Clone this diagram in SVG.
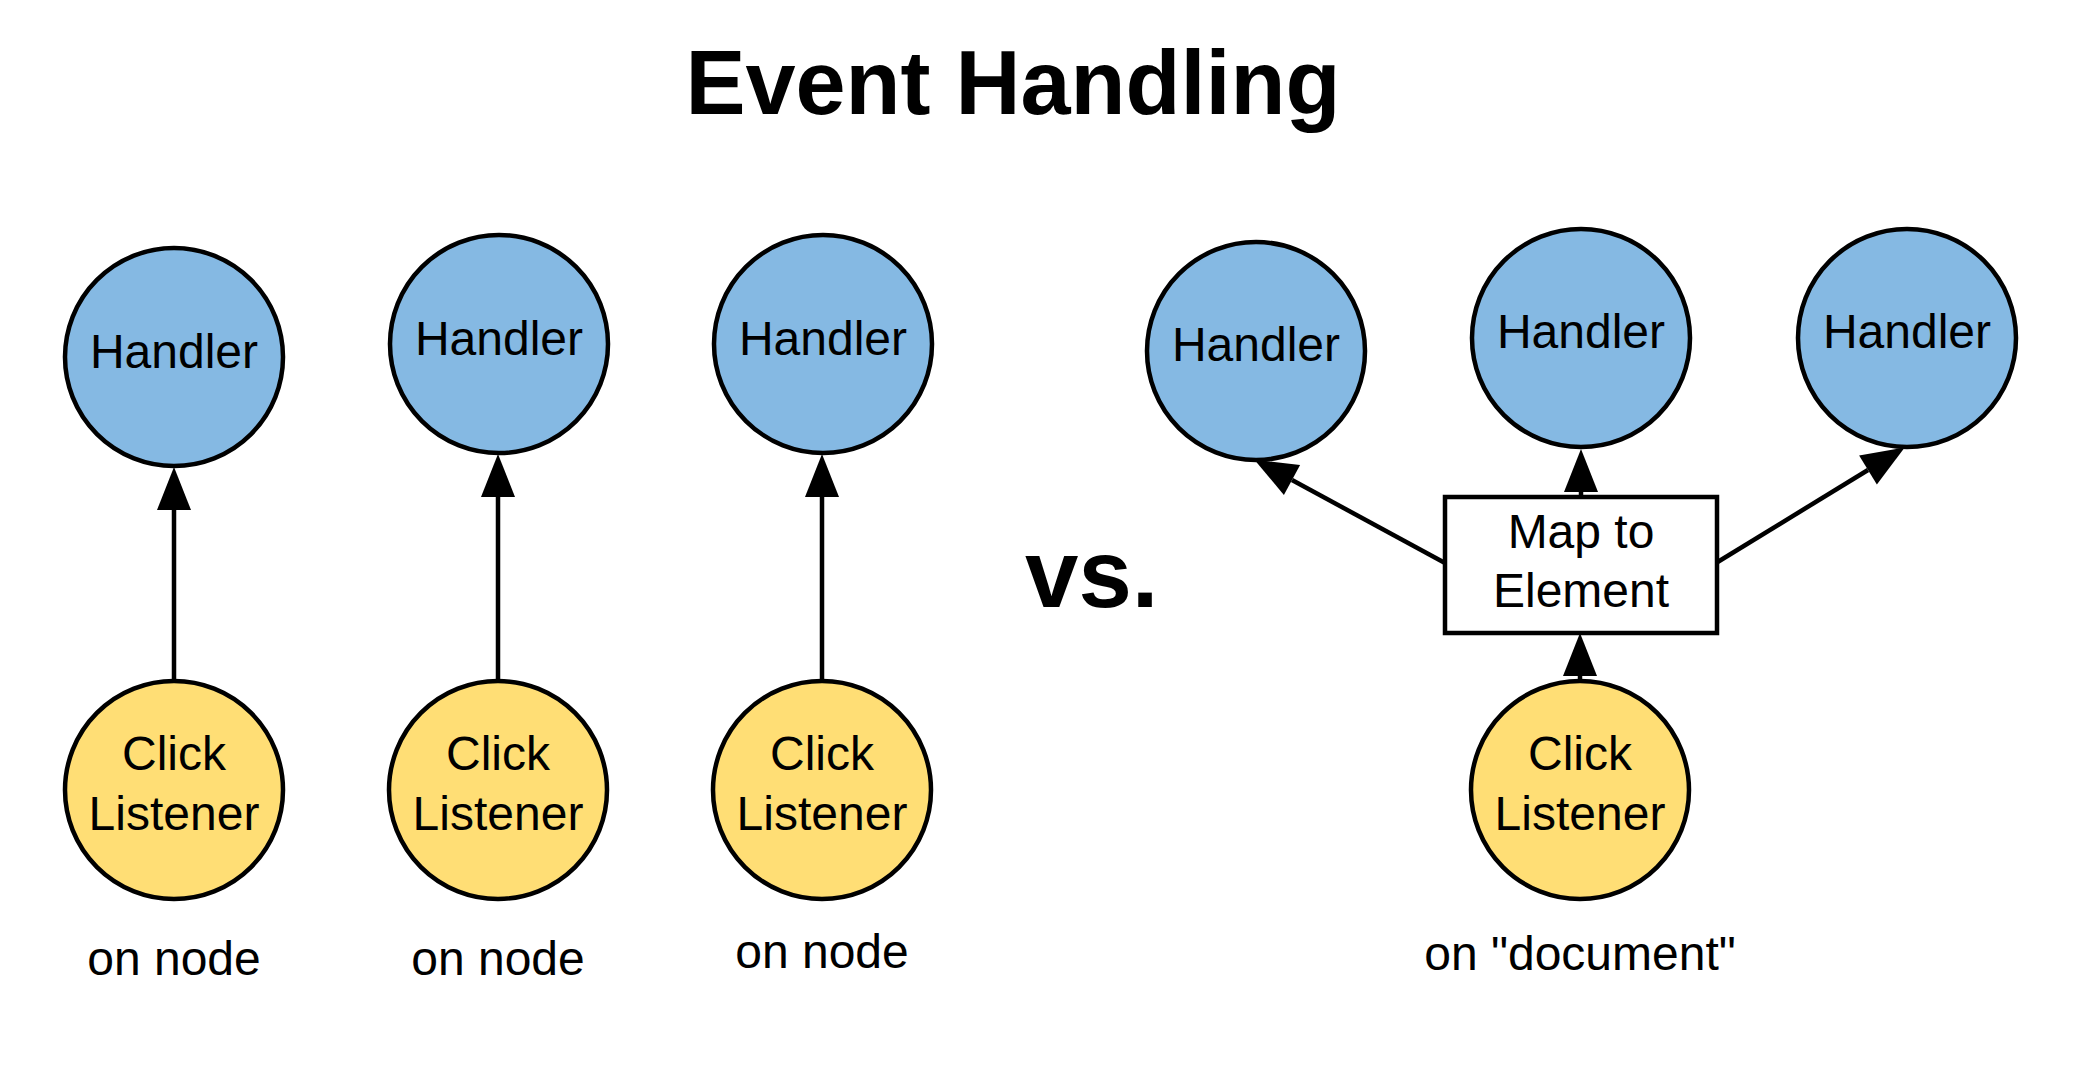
<svg xmlns="http://www.w3.org/2000/svg" width="2084" height="1072" viewBox="0 0 2084 1072">
  <style>
    text { font-family: "Liberation Sans", Arial, sans-serif; fill: #000; text-anchor: middle; }
    .lbl { font-size: 48px; }
    .title { font-size: 90px; font-weight: bold; }
    .vs { font-size: 96px; font-weight: bold; text-anchor: start; }
    .handler { fill: #85B9E3; stroke: #000; stroke-width: 4.5; }
    .listener { fill: #FFDE75; stroke: #000; stroke-width: 4.5; }
    .box { fill: #fff; stroke: #000; stroke-width: 4.5; }
    .edge { stroke: #000; stroke-width: 4.5; fill: none; marker-end: url(#arrow); }
  </style>
  <defs>
    <marker id="arrow" markerUnits="userSpaceOnUse" markerWidth="46" markerHeight="36" refX="0" refY="17" orient="auto" viewBox="0 0 46 34" overflow="visible">
      <path d="M0,0 L43,17 L0,34 Z" fill="#000"/>
    </marker>
  </defs>
  <rect width="2084" height="1072" fill="#fff"/>
  <text class="title" x="1013" y="114">Event Handling</text>
  <text class="vs" x="1025" y="607">vs.</text>

  <g id="connectors">
    <line class="edge" x1="174" y1="681" x2="174" y2="510"/>
    <line class="edge" x1="498" y1="681" x2="498" y2="497"/>
    <line class="edge" x1="822" y1="681" x2="822" y2="497"/>
    <line class="edge" x1="1580" y1="681" x2="1580" y2="676"/>
    <line class="edge" x1="1581" y1="497" x2="1581" y2="492"/>
    <line class="edge" x1="1445" y1="563" x2="1292" y2="480"/>
    <line class="edge" x1="1716" y1="563" x2="1868" y2="470"/>
  </g>

  <g id="handler1"><circle class="handler" cx="174" cy="357" r="109"/><text class="lbl" x="174" y="368">Handler</text></g>
  <g id="handler2"><circle class="handler" cx="499" cy="344" r="109"/><text class="lbl" x="499" y="355">Handler</text></g>
  <g id="handler3"><circle class="handler" cx="823" cy="344" r="109"/><text class="lbl" x="823" y="355">Handler</text></g>

  <g id="listener1"><circle class="listener" cx="174" cy="790" r="109"/><text class="lbl" x="174" y="770">Click</text><text class="lbl" x="174" y="830">Listener</text></g>
  <g id="listener2"><circle class="listener" cx="498" cy="790" r="109"/><text class="lbl" x="498" y="770">Click</text><text class="lbl" x="498" y="830">Listener</text></g>
  <g id="listener3"><circle class="listener" cx="822" cy="790" r="109"/><text class="lbl" x="822" y="770">Click</text><text class="lbl" x="822" y="830">Listener</text></g>

  <g id="caption1"><text class="lbl" x="174" y="975">on node</text></g>
  <g id="caption2"><text class="lbl" x="498" y="975">on node</text></g>
  <g id="caption3"><text class="lbl" x="822" y="968">on node</text></g>

  <g id="handlerR1"><circle class="handler" cx="1256" cy="351" r="109"/><text class="lbl" x="1256" y="361">Handler</text></g>
  <g id="handlerR2"><circle class="handler" cx="1581" cy="338" r="109"/><text class="lbl" x="1581" y="348">Handler</text></g>
  <g id="handlerR3"><circle class="handler" cx="1907" cy="338" r="109"/><text class="lbl" x="1907" y="348">Handler</text></g>

  <g id="map"><rect class="box" x="1445" y="497" width="272" height="136"/><text class="lbl" x="1581" y="548">Map to</text><text class="lbl" x="1581" y="607">Element</text></g>

  <g id="listenerR"><circle class="listener" cx="1580" cy="790" r="109"/><text class="lbl" x="1580" y="770">Click</text><text class="lbl" x="1580" y="830">Listener</text></g>
  <g id="captionR"><text class="lbl" x="1580" y="970">on "document"</text></g>
</svg>
